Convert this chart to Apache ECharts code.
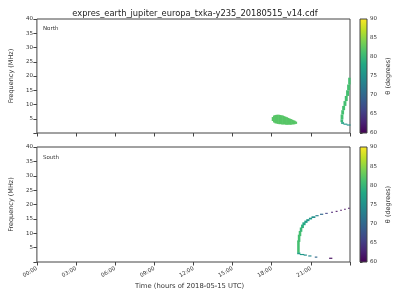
<!DOCTYPE html>
<html><head><meta charset="utf-8">
<script src="https://cdn.jsdelivr.net/npm/echarts@6/dist/echarts.min.js"></script>
<style>html,body{margin:0;padding:0;background:#fff}#c{width:400px;height:300px}</style>
</head><body><div id="c"></div>
<script>
// ---- data (hours UTC, MHz, theta in degrees) ----
const title = 'expres_earth_jupiter_europa_txka-y235_20180515_v14.cdf';
const hourTicks = [0, 3, 6, 9, 12, 15, 18, 21];
const freqTicks = [5, 10, 15, 20, 25, 30, 35, 40];
const thetaTicks = [60, 65, 70, 75, 80, 85, 90];

// North: blob, per time column (start hour), low & high frequency
const northBlobTime = [18.0,18.1,18.2,18.3,18.4,18.5,18.6,18.7,18.8,18.9,19.0,19.1,19.2,19.3,19.4,19.5,19.6,19.7,19.8];
const northBlobLow  = [4.2,3.7,3.4,3.3,3.2,3.1,3.1,3.0,3.0,3.0,2.9,2.9,2.9,2.9,2.9,3.0,3.0,3.1,3.2];
const northBlobHigh = [5.6,6.1,6.3,6.4,6.4,6.4,6.3,6.2,6.1,5.9,5.7,5.5,5.3,5.1,4.9,4.7,4.5,4.3,4.0];
const northBlobTheta = 82;

// North: arc cells [t0, t1, f0, f1, theta]
const northArc = [
  [23.86,24.0,17.0,19.4,81],[23.78,23.96,15.0,17.0,81],[23.7,23.88,13.0,15.0,81],
  [23.6,23.78,11.2,13.0,81],[23.5,23.68,9.5,11.2,81],[23.4,23.58,8.0,9.5,81],
  [23.33,23.5,6.5,8.0,81],[23.28,23.45,4.8,6.5,81],[23.27,23.43,3.8,4.8,80],
  [23.32,23.5,3.2,3.8,77],[23.5,23.75,2.9,3.3,76],[23.75,24.0,2.6,3.0,75]
];

// South: arc cells [t0, t1, f0, f1, theta]
const southArc = [
  [19.95,20.1,3.2,7.5,81],[20.0,20.15,7.0,9.5,81],[20.07,20.22,9.0,10.8,81],
  [20.15,20.3,10.5,12.0,80],[20.25,20.42,11.8,13.0,79],[20.35,20.55,12.8,13.8,78],
  [20.5,20.7,13.6,14.4,77],[20.65,20.85,14.2,14.9,76],[20.85,21.05,14.8,15.4,76],
  [21.05,21.3,15.3,15.9,75],[21.35,21.55,15.9,16.3,73],[21.7,21.9,16.4,16.8,70],
  [22.1,22.25,16.8,17.1,66],[22.55,22.65,17.2,17.5,63],[22.9,23.0,17.5,17.8,61],
  [23.25,23.32,17.9,18.2,61],[23.55,23.62,18.2,18.5,61],[23.85,23.92,18.6,18.9,61],
  [19.95,20.15,2.7,3.3,77],[20.15,20.45,2.4,2.8,76],[20.45,20.65,2.2,2.6,75],
  [20.8,21.0,1.9,2.3,74],[21.3,21.45,1.5,1.9,70],[22.4,22.6,1.1,1.5,61]
];

const viridis = ['#440154','#482475','#414487','#355f8d','#2a788e','#21918c','#22a884','#44bf70','#7ad151','#bddf26','#fde725'];

// ---- build ----
const northCells = northBlobTime.map((t, i) => [t, t + 0.1, northBlobLow[i], northBlobHigh[i], northBlobTheta]).concat(northArc);

const txt = '#333';
const frame = '#444';
function renderCell(params, api) {
  const p0 = api.coord([api.value(0), api.value(3)]);
  const p1 = api.coord([api.value(1), api.value(2)]);
  return { type: 'rect', shape: { x: p0[0], y: p0[1], width: Math.max(1, p1[0] - p0[0]) + 0.6, height: Math.max(1, p1[1] - p0[1]) },
           style: { fill: api.visual('color') } };
}
function renderBar(params, api) {
  const p0 = api.coord([0, thetaTicks[thetaTicks.length - 1]]);
  const p1 = api.coord([1, thetaTicks[0]]);
  return { type: 'rect', shape: { x: p0[0], y: p0[1], width: p1[0] - p0[0], height: p1[1] - p0[1] },
           style: { fill: new echarts.graphic.LinearGradient(0, 1, 0, 0, viridis.map((c, i) => ({ offset: i / (viridis.length - 1), color: c }))),
                    stroke: frame, lineWidth: 1 } };
}
const fmtHour = v => hourTicks.indexOf(v) >= 0 ? String(v).padStart(2, '0') + ':00' : '';
const baseX = (idx, labels) => ({
  type: 'value', gridIndex: idx, min: 0, max: 24, interval: 3,
  axisLine: { show: false }, splitLine: { show: false },
  axisTick: { show: true, length: 3.5, lineStyle: { color: frame } },
  axisLabel: { show: labels, rotate: 30, fontSize: 5.5, color: txt, margin: 6, fontFamily: 'DejaVu Sans', formatter: fmtHour }
});
const baseY = idx => ({
  type: 'value', gridIndex: idx, min: 0, max: 40, interval: 5,
  name: 'Frequency (MHz)', nameLocation: 'middle', nameGap: 18, nameRotate: 90,
  nameTextStyle: { fontSize: 6.5, color: txt, fontFamily: 'DejaVu Sans' },
  axisLine: { show: false }, splitLine: { show: false },
  axisTick: { show: true, length: 3.5, lineStyle: { color: frame } },
  axisLabel: { fontSize: 5.5, color: txt, margin: 4, fontFamily: 'DejaVu Sans', formatter: v => v === 0 ? '' : String(v) }
});
const cbX = idx => ({ type: 'value', gridIndex: idx, min: 0, max: 1, show: false });
const cbY = idx => ({
  type: 'value', gridIndex: idx, min: 60, max: 90, interval: 5, position: 'right',
  name: 'θ (degrees)', nameLocation: 'middle', nameGap: 18, nameRotate: 90,
  nameTextStyle: { fontSize: 6.5, color: txt, fontFamily: 'DejaVu Sans' },
  axisLine: { show: false }, splitLine: { show: false },
  axisTick: { show: true, length: 2.5, lineStyle: { color: frame } },
  axisLabel: { fontSize: 5.5, color: txt, margin: 3, fontFamily: 'DejaVu Sans' }
});

const chart = echarts.init(document.getElementById('c'), null, { renderer: 'canvas' });
chart.setOption({
  backgroundColor: '#fff',
  animation: false,
  title: { text: title, left: 190, top: 5, textAlign: 'center',
           textStyle: { fontSize: 8.3, fontWeight: 'normal', color: '#222', fontFamily: 'DejaVu Sans' } },
  grid: [
    { left: 31, top: 19, width: 319, height: 114, show: true, borderColor: frame, borderWidth: 1, backgroundColor: 'transparent' },
    { left: 31, top: 147, width: 319, height: 115, show: true, borderColor: frame, borderWidth: 1, backgroundColor: 'transparent' },
    { left: 360, top: 19, width: 7, height: 114 },
    { left: 360, top: 147, width: 7, height: 115 }
  ],
  xAxis: [baseX(0, false), baseX(1, true), cbX(2), cbX(3)],
  yAxis: [baseY(0), baseY(1), cbY(2), cbY(3)],
  visualMap: {
    show: false, type: 'continuous', min: 60, max: 90, dimension: 4, seriesIndex: [0, 1],
    inRange: { color: viridis }
  },
  graphic: [
    { type: 'text', left: 43, top: 26, style: { text: 'North', fontSize: 5.5, fill: txt, fontFamily: 'DejaVu Sans' } },
    { type: 'text', left: 43, top: 155, style: { text: 'South', fontSize: 5.5, fill: txt, fontFamily: 'DejaVu Sans' } },
    { type: 'text', left: 135, top: 283, style: { text: 'Time (hours of 2018-05-15 UTC)', fontSize: 6.8, fill: txt, fontFamily: 'DejaVu Sans' } }
  ],
  series: [
    { type: 'custom', xAxisIndex: 0, yAxisIndex: 0, renderItem: renderCell, encode: { x: [0, 1], y: [2, 3] }, data: northCells, clip: true },
    { type: 'custom', xAxisIndex: 1, yAxisIndex: 1, renderItem: renderCell, encode: { x: [0, 1], y: [2, 3] }, data: southArc, clip: true },
    { type: 'custom', xAxisIndex: 2, yAxisIndex: 2, renderItem: renderBar, data: [[0]] },
    { type: 'custom', xAxisIndex: 3, yAxisIndex: 3, renderItem: renderBar, data: [[0]] }
  ]
});
</script></body></html>
